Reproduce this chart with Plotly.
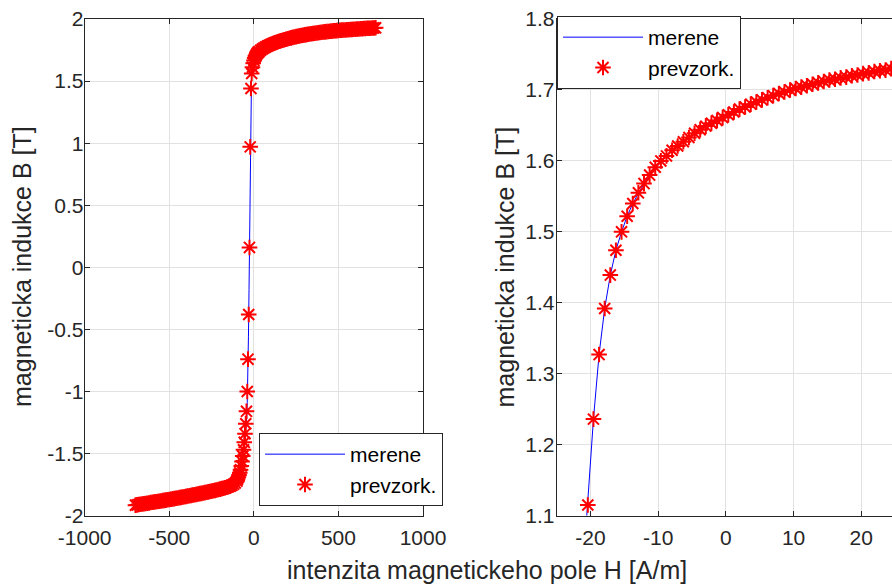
import plotly.graph_objects as go

# --- measured B-H curve (merene) ---
H_merene = [-700, -600, -500, -400, -300, -200, -140, -100, -88, -76, -64, -52, -46,
            -42.5, -39, -35.5, -32, -28.5, -25, -21.5,
            -20.40, -19.57, -18.74, -17.91, -17.08, -16.25, -15.42, -14.59, -13.76, -12.93,
            -12.10, -11.27, -10.44, -9.61, -7.95, -6.29, -4.63, -2.97, -1.31, 0.35, 2.01,
            4.50, 6.99, 9.48, 12.80, 16.12, 20.27, 25.25,
            40, 60, 100, 150, 200, 300, 400, 500, 600, 720]
B_merene = [-1.916, -1.893, -1.870, -1.845, -1.818, -1.787, -1.763, -1.722, -1.688, -1.620, -1.540, -1.370, -1.280,
            -1.220, -1.090, -0.880, -0.560, -0.180, 0.330, 0.970,
            1.115, 1.236, 1.327, 1.392, 1.439, 1.474, 1.500, 1.522, 1.540, 1.555,
            1.568, 1.580, 1.591, 1.600, 1.615, 1.627, 1.639, 1.649, 1.657, 1.665, 1.673,
            1.683, 1.692, 1.700, 1.708, 1.715, 1.723, 1.731,
            1.748, 1.767, 1.795, 1.821, 1.841, 1.872, 1.893, 1.908, 1.918, 1.929]

# --- resampled points (prevzork.), coarse step: full loop branch ---
# lower saturated branch
H_dolni = [-700, -690, -680, -670, -660, -650, -640, -630, -620, -610,
           -600, -590, -580, -570, -560, -550, -540, -530, -520, -510,
           -500, -490, -480, -470, -460, -450, -440, -430, -420, -410,
           -400, -390, -380, -370, -360, -350, -340, -330, -320, -310,
           -300, -290, -280, -270, -260, -250, -240, -230, -220, -210,
           -200, -190, -180, -170, -160, -150, -140, -130, -120, -110, -100]
B_dolni = [-1.916, -1.914, -1.911, -1.909, -1.907, -1.904, -1.902, -1.900, -1.898, -1.895,
           -1.893, -1.891, -1.888, -1.886, -1.884, -1.882, -1.879, -1.877, -1.875, -1.872,
           -1.870, -1.868, -1.865, -1.863, -1.860, -1.858, -1.855, -1.853, -1.850, -1.848,
           -1.845, -1.842, -1.840, -1.837, -1.834, -1.832, -1.829, -1.826, -1.823, -1.821,
           -1.818, -1.815, -1.812, -1.809, -1.806, -1.803, -1.800, -1.797, -1.794, -1.790,
           -1.787, -1.783, -1.780, -1.776, -1.772, -1.768, -1.763, -1.756, -1.748, -1.737, -1.722]

# knee, steep part and start of saturation
H_koleno = [-96.3, -91.9, -87.5, -83.1, -78.7, -74.3, -69.9, -65.5, -61.1, -56.7,
            -52.3, -47.9, -43.5, -39.1, -34.7, -30.3, -25.9, -21.5, -17.1, -12.7,
            -8.3, -3.9, 0.5, 4.9, 9.3, 13.7, 18.1, 22.5, 26.9]
B_koleno = [-1.707, -1.692, -1.675, -1.655, -1.630, -1.600, -1.565, -1.520, -1.470, -1.410,
            -1.340, -1.260, -1.160, -1.000, -0.740, -0.380, 0.160, 0.970, 1.440, 1.561,
            1.611, 1.643, 1.666, 1.685, 1.699, 1.710, 1.719, 1.727, 1.733]

# upper saturated branch
H_horni = [30, 40, 50, 60, 70, 80, 90, 100, 110, 120,
           130, 140, 150, 160, 170, 180, 190, 200, 210, 220,
           230, 240, 250, 260, 270, 280, 290, 300, 310, 320,
           330, 340, 350, 360, 370, 380, 390, 400, 410, 420,
           430, 440, 450, 460, 470, 480, 490, 500, 510, 520,
           530, 540, 550, 560, 570, 580, 590, 600, 610, 620,
           630, 640, 650, 660, 670, 680, 690, 700, 710, 720]
B_horni = [1.737, 1.748, 1.758, 1.767, 1.775, 1.782, 1.789, 1.795, 1.801, 1.806,
           1.811, 1.816, 1.821, 1.825, 1.829, 1.833, 1.837, 1.841, 1.845, 1.848,
           1.852, 1.855, 1.858, 1.861, 1.864, 1.867, 1.869, 1.872, 1.874, 1.877,
           1.879, 1.881, 1.883, 1.885, 1.887, 1.889, 1.891, 1.893, 1.895, 1.896,
           1.898, 1.899, 1.901, 1.902, 1.904, 1.905, 1.906, 1.908, 1.909, 1.910,
           1.911, 1.912, 1.913, 1.914, 1.915, 1.916, 1.917, 1.918, 1.919, 1.920,
           1.921, 1.922, 1.923, 1.924, 1.925, 1.926, 1.926, 1.927, 1.928, 1.929]

# --- resampled points (prevzork.), fine step around H = 0 ---
H_detail = [-20.40, -19.57, -18.74, -17.91, -17.08, -16.25, -15.42, -14.59, -13.76, -12.93,
            -12.10, -11.27, -10.44, -9.61, -8.78, -7.95, -7.12, -6.29, -5.46, -4.63,
            -3.80, -2.97, -2.14, -1.31, -0.48, 0.35, 1.18, 2.01, 2.84, 3.67,
            4.50, 5.33, 6.16, 6.99, 7.82, 8.65, 9.48, 10.31, 11.14, 11.97,
            12.80, 13.63, 14.46, 15.29, 16.12, 16.95, 17.78, 18.61, 19.44, 20.27,
            21.10, 21.93, 22.76, 23.59, 24.42, 25.25]
B_detail = [1.115, 1.236, 1.327, 1.392, 1.439, 1.474, 1.500, 1.522, 1.540, 1.555,
            1.568, 1.580, 1.591, 1.600, 1.607, 1.615, 1.621, 1.627, 1.633, 1.639,
            1.644, 1.649, 1.653, 1.657, 1.661, 1.665, 1.669, 1.673, 1.676, 1.680,
            1.683, 1.686, 1.689, 1.692, 1.695, 1.697, 1.700, 1.702, 1.704, 1.706,
            1.708, 1.710, 1.712, 1.714, 1.715, 1.717, 1.718, 1.720, 1.721, 1.723,
            1.724, 1.726, 1.727, 1.728, 1.730, 1.731]

H_hrube = H_dolni + H_koleno + H_horni
B_hrube = B_dolni + B_koleno + B_horni
assert len(H_hrube) == len(B_hrube)
assert len(H_detail) == len(B_detail) and len(H_merene) == len(B_merene)

# --- axis ticks ---
x1_vals = [-1000, -500, 0, 500, 1000]
x1_text = ["-1000", "-500", "0", "500", "1000"]
y1_vals = [-2, -1.5, -1, -0.5, 0, 0.5, 1, 1.5, 2]
y1_text = ["-2", "-1.5", "-1", "-0.5", "0", "0.5", "1", "1.5", "2"]
x2_vals = [-20, -10, 0, 10, 20]
x2_text = ["-20", "-10", "0", "10", "20"]
y2_vals = [1.1, 1.2, 1.3, 1.4, 1.5, 1.6, 1.7, 1.8]
y2_text = ["1.1", "1.2", "1.3", "1.4", "1.5", "1.6", "1.7", "1.8"]

FONT = "Liberation Sans, Arial, Helvetica, sans-serif"
INK = "#262626"
GRID = "#e1e1e1"
W, H = 892, 584

marker_style = dict(symbol="asterisk-open", size=13, color="#ff0000",
                    line=dict(color="#ff0000", width=2))

fig = go.Figure()
panels = [("x", "y", "legend", H_hrube, B_hrube),
          ("x2", "y2", "legend2", H_detail, B_detail)]
for xa, ya, lg, hx, by in panels:
    fig.add_trace(go.Scatter(
        x=H_merene, y=B_merene, mode="lines", name="merene",
        line=dict(color="#0000ff", width=1),
        xaxis=xa, yaxis=ya, legend=lg))
    fig.add_trace(go.Scatter(
        x=hx, y=by, mode="markers", name="prevzork.", marker=marker_style,
        xaxis=xa, yaxis=ya, legend=lg))

axis_style = dict(
    showline=True, linecolor=INK, linewidth=1,
    ticks="inside", ticklen=5, tickcolor=INK, tickwidth=1,
    showgrid=True, gridcolor=GRID, gridwidth=1, zeroline=False,
    tickfont=dict(family=FONT, size=21, color=INK), automargin=False,
)

y_dom = [1 - 515.6 / H, 1 - 19 / H]
legend_style = dict(xanchor="left", yanchor="top", bgcolor="white",
                    bordercolor=INK, borderwidth=1,
                    font=dict(family=FONT, size=21, color="#000000"),
                    itemwidth=80, tracegroupgap=0)

fig.update_layout(
    width=W, height=H,
    margin=dict(l=0, r=0, t=0, b=0),
    paper_bgcolor="white", plot_bgcolor="white",
    font=dict(family=FONT, color=INK),
    xaxis=dict(axis_style, domain=[84.7 / W, 423 / W], range=[-1000, 1000],
               tickmode="array", tickvals=x1_vals, ticktext=x1_text,
               ticklabelstandoff=3, mirror="ticks", anchor="y"),
    yaxis=dict(axis_style, domain=y_dom, range=[-2, 2],
               tickmode="array", tickvals=y1_vals, ticktext=y1_text,
               ticklabelstandoff=-4, mirror="ticks", anchor="x"),
    xaxis2=dict(axis_style, domain=[556.7 / W, 1.0], range=[-25, 24.54],
                tickmode="array", tickvals=x2_vals, ticktext=x2_text,
                ticklabelstandoff=3, mirror="ticks", anchor="y2"),
    yaxis2=dict(axis_style, domain=y_dom, range=[1.1, 1.8],
                tickmode="array", tickvals=y2_vals, ticktext=y2_text,
                ticklabelstandoff=-3, mirror=False, anchor="x2"),
    legend=dict(legend_style, x=259 / W, y=1 - 433 / H),
    legend2=dict(legend_style, x=557 / W, y=1 - 16 / H),
    annotations=[
        dict(text="intenzita magnetickeho pole H [A/m]", xref="paper", yref="paper",
             x=486.7 / W, y=1 - 570 / H, xanchor="center", yanchor="middle",
             showarrow=False, font=dict(family=FONT, size=25, color=INK)),
        dict(text="magneticka indukce B [T]", xref="paper", yref="paper",
             x=22 / W, y=1 - 267 / H, xanchor="center", yanchor="middle",
             textangle=-90, showarrow=False, font=dict(family=FONT, size=25, color=INK)),
        dict(text="magneticka indukce B [T]", xref="paper", yref="paper",
             x=504.5 / W, y=1 - 267 / H, xanchor="center", yanchor="middle",
             textangle=-90, showarrow=False, font=dict(family=FONT, size=25, color=INK)),
    ],
)

fig.write_html("out.html")
